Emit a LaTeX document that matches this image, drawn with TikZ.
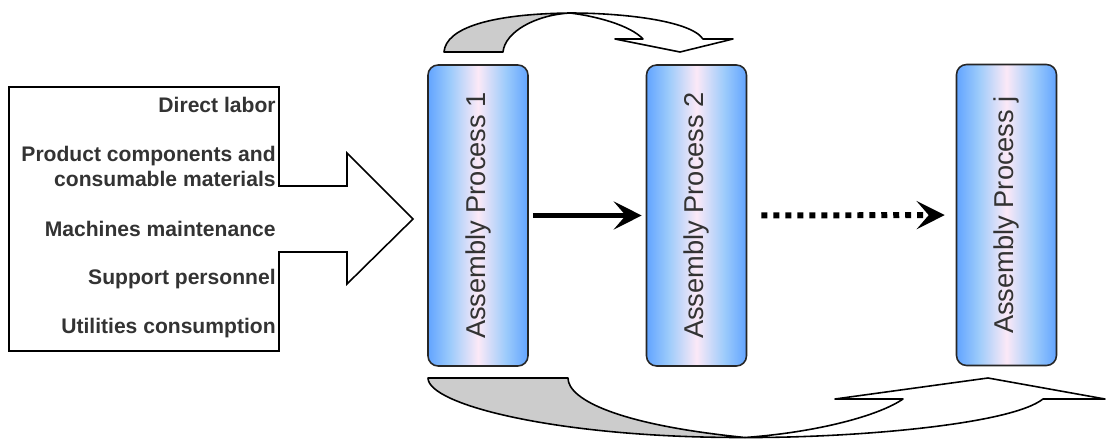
\documentclass[tikz,border=0pt]{standalone}
\usepackage{fontspec}
\setmainfont{Liberation Sans}
\usetikzlibrary{arrows.meta}
\definecolor{boxblue}{HTML}{62A4FF}
\definecolor{boxlight}{HTML}{9CCBFB}
\definecolor{boxpink}{HTML}{FCE9F7}
\definecolor{txtgray}{HTML}{333333}
\definecolor{bandgray}{HTML}{CCCCCC}
\pgfdeclarehorizontalshading{procshade}{100bp}{color(0bp)=(boxblue); color(25bp)=(boxblue); color(36bp)=(boxlight); color(50bp)=(boxpink); color(64bp)=(boxlight); color(75bp)=(boxblue); color(100bp)=(boxblue)}
\begin{document}
\begin{tikzpicture}[x=0.02cm,y=-0.02cm,
  procbox/.style={draw=black!85, line width=0.9pt, rounded corners=0.2cm, minimum width=2cm, minimum height=6.02cm, inner sep=0pt, shading=procshade, shading angle=0, text=txtgray, font=\fontsize{15.5}{18}\selectfont},
  costlabel/.style={anchor=base east, inner sep=0pt, text=txtgray, font=\fontsize{12}{14}\selectfont\bfseries},
  flow/.style={line width=3.4pt, -{Stealth[length=0.56cm,width=0.56cm,inset=0.24cm]}},
  band/.style={draw=black, line width=0.9pt, line join=round}]
						\useasboundingbox (0,0) rectangle (1107,439);
						% input costs
						\draw[band, line join=miter, fill=white] (9,87) -- (279,87) -- (279,186) -- (347,186) -- (347,153) -- (413,219) -- (347,284) -- (347,252) -- (279,252) -- (279,351) -- (9,351) -- cycle;
						\path (276,113) node[costlabel] (v0) {Direct labor};
						\path (276,162) node[costlabel] (v1) {Product components and};
						\path (276,187) node[costlabel] (v2) {consumable materials};
						\path (276,236) node[costlabel] (v3) {Machines maintenance};
						\path (276,285) node[costlabel] (v4) {Support personnel};
						\path (276,334) node[costlabel] (v5) {Utilities consumption};
						% processes
						\path (478,215.5) node[procbox] (p1) {\rotatebox{90}{Assembly Process 1}};
						\path (696.5,215.5) node[procbox] (p2) {\rotatebox{90}{Assembly Process 2}};
						\path (1006.5,215) node[procbox] (pj) {\rotatebox{90}{Assembly Process j}};
						\draw[flow, shorten <=0.08cm, shorten >=0.08cm] (p1) -- (p2);
						\draw[flow, dash pattern=on 0.12cm off 0.12cm, shorten <=0.28cm, shorten >=0.22cm] (p2) -- (pj);
						% top curved arrow
						\draw[band, fill=bandgray] (444,52) .. controls (446,28) and (490,14) .. (570,13) .. controls (535,15) and (505,32) .. (503,52) -- cycle;
						\draw[band, fill=white] (570,13) .. controls (620,13) and (690,20) .. (703,39) -- (733,39) -- (680,52) -- (615,39) -- (643,39) .. controls (630,25) and (595,16) .. (570,13) -- cycle;
						% bottom curved arrow
						\draw[band, fill=bandgray] (428,378) -- (568,378) .. controls (568,400) and (620,425) .. (745,437.5) .. controls (560,438) and (428,405) .. (428,378) -- cycle;
						\draw[band, fill=white] (745,437.5) .. controls (850,438) and (1010,425) .. (1043,399) -- (1105,399) -- (988,378) -- (835,399) -- (903,399) .. controls (880,415) and (820,432) .. (745,437.5) -- cycle;
					\end{tikzpicture}
\end{document}
